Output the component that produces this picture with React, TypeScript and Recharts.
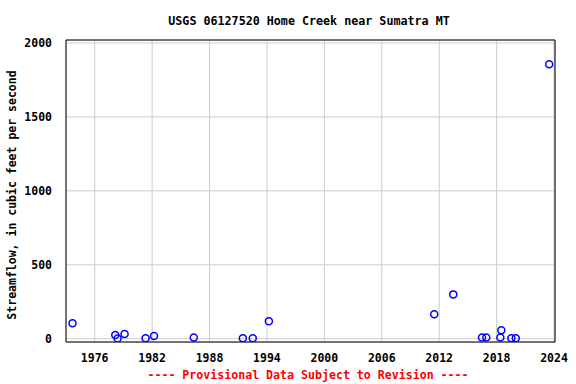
import { ScatterChart, Scatter, XAxis, YAxis, CartesianGrid, ReferenceArea } from 'recharts';

const years = [
  1973.68, 1978.15, 1978.39, 1979.12, 1981.32, 1982.2, 1986.35, 1991.48, 1992.52, 1994.2,
  2011.48, 2013.47, 2016.47, 2016.92, 2018.39, 2018.49, 2019.54, 2020.0, 2023.49,
];
const flows = [104, 25, 2, 32, 3, 18, 9, 3, 3, 118, 165, 300, 9, 9, 9, 57, 3, 3, 1856];
const xTicks = [1976, 1982, 1988, 1994, 2000, 2006, 2012, 2018, 2024];
const yTicks = [0, 500, 1000, 1500, 2000];

const data = years.map((year, i) => ({ year, flow: flows[i] }));

const font = '"DejaVu Sans Mono", monospace';
const tickStyle = { fill: '#000', fontSize: 11.5, fontWeight: 'bold' as const, fontFamily: font };

const Ring = (props: any) => (
  <circle cx={props.cx} cy={props.cy} r={3.5} fill="none" stroke="#0000ff" strokeWidth={1.5} />
);

export default function App() {
  return (
    <div style={{ position: 'absolute', left: 0, top: 0, width: 576, height: 384, background: '#fff' }}>
      <div style={{ position: 'absolute', top: 14, left: 0, width: 618, textAlign: 'center', fontFamily: font, fontWeight: 'bold', fontSize: 11.7, lineHeight: '14px' }}>
        USGS 06127520 Home Creek near Sumatra MT
      </div>
      <div
        style={{
          position: 'absolute', left: 12, top: 195, width: 300, marginLeft: -150, textAlign: 'center',
          transform: 'rotate(-90deg)', fontFamily: font, fontWeight: 'bold', fontSize: 11.5, lineHeight: '14px', marginTop: -7,
        }}
      >
        Streamflow, in cubic feet per second
      </div>
      <ScatterChart width={576} height={384} margin={{ top: 40, right: 21, bottom: 12, left: 16 }}>
        <CartesianGrid stroke="#cccccc" strokeWidth={1} />
        <XAxis
          type="number" dataKey="year" domain={[1973, 2024.1]} ticks={xTicks} allowDataOverflow
          height={30} tickLine={false} axisLine={false} tick={tickStyle} tickMargin={6} interval={0}
        />
        <YAxis
          type="number" dataKey="flow" domain={[-22, 2020]} ticks={yTicks} allowDataOverflow
          width={50} tickLine={false} axisLine={false} tick={tickStyle} tickMargin={8} interval={0}
        />
        <ReferenceArea x1={1973} x2={2024.1} y1={-22} y2={2020} fill="none" stroke="#000" strokeWidth={1} ifOverflow="visible" />
        <Scatter data={data} shape={Ring} isAnimationActive={false} />
      </ScatterChart>
      <div style={{ position: 'absolute', top: 368, left: 0, width: 616, textAlign: 'center', fontFamily: font, fontWeight: 'bold', fontSize: 11.6, lineHeight: '14px', color: '#ff0000' }}>
        ---- Provisional Data Subject to Revision ----
      </div>
    </div>
  );
}
